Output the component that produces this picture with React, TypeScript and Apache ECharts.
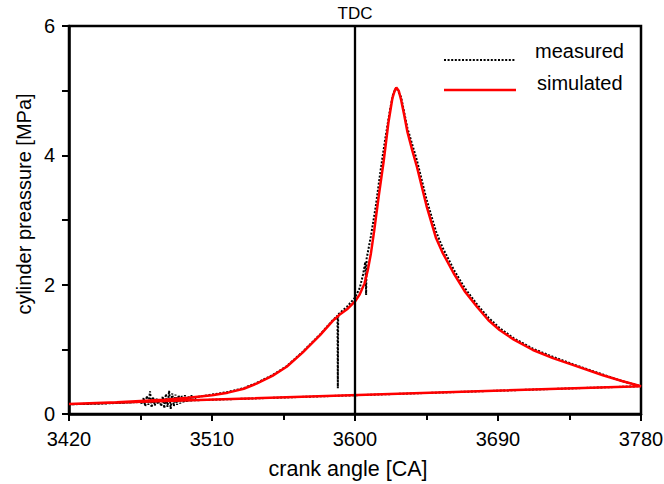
import React, { useEffect, useRef } from "react";
import * as echarts from "echarts";

const xTicks = [3420, 3510, 3600, 3690, 3780];
const yTicks = [0, 2, 4, 6];
const xTitle = "crank angle [CA]";
const yTitle = "cylinder preassure [MPa]";

// simulated curve: crank angle [CA] and pressure [MPa] (closed cycle, returns to start)
const simAngle = [
  3420, 3450, 3480, 3495, 3510, 3520, 3530, 3538, 3548, 3557, 3567, 3578, 3586, 3590, 3595, 3600,
  3603, 3606, 3608, 3610, 3612, 3615, 3618, 3621, 3623.5, 3625, 3626, 3627.5, 3629, 3631, 3633,
  3636, 3639, 3645, 3651, 3655, 3662, 3669, 3677, 3684, 3691, 3700, 3712, 3725, 3737, 3756, 3768,
  3780, 3420,
];
const simPressure = [
  0.155, 0.18, 0.22, 0.25, 0.29, 0.33, 0.39, 0.47, 0.59, 0.73, 0.95, 1.22, 1.44, 1.53, 1.62, 1.74,
  1.85, 2.02, 2.22, 2.48, 2.82, 3.38, 3.9, 4.5, 4.88, 5.0, 5.05, 5.0, 4.86, 4.62, 4.36,
  4.08, 3.82, 3.22, 2.72, 2.5, 2.18, 1.9, 1.65, 1.45, 1.3, 1.15, 0.99, 0.86, 0.76, 0.6, 0.51,
  0.43, 0.155,
];

// measured curve (noisy, with sensor glitches)
const measAngle = [
  3420, 3430, 3440, 3450, 3460, 3465, 3466, 3467, 3468, 3469, 3470, 3471, 3472, 3473, 3474, 3475,
  3476, 3477, 3478, 3479, 3480, 3481, 3482, 3483, 3484, 3485, 3486, 3487, 3488, 3489, 3490, 3491,
  3492, 3493, 3494, 3495, 3496, 3497, 3498, 3500, 3505, 3510, 3520, 3530, 3538, 3548, 3557, 3567,
  3578, 3586, 3589, 3589.2, 3589.4, 3595, 3600, 3603, 3605, 3606.5, 3607, 3607.3, 3610, 3613, 3616,
  3619, 3622, 3624, 3626, 3629, 3633, 3639, 3645, 3651, 3655, 3662, 3669, 3677, 3684, 3691, 3700,
  3712, 3725, 3737, 3756, 3768, 3780, 3420,
];
const measPressure = [
  0.15, 0.155, 0.16, 0.17, 0.18, 0.19, 0.15, 0.25, 0.12, 0.28, 0.14, 0.35, 0.1, 0.26, 0.13, 0.24,
  0.15, 0.22, 0.12, 0.27, 0.09, 0.31, 0.11, 0.36, 0.08, 0.32, 0.12, 0.3, 0.14, 0.29, 0.16, 0.28,
  0.18, 0.29, 0.19, 0.28, 0.2, 0.29, 0.22, 0.26, 0.28, 0.3, 0.34, 0.4, 0.48, 0.6, 0.74, 0.96,
  1.23, 1.45, 1.52, 0.4, 1.54, 1.66, 1.8, 1.95, 2.15, 2.35, 1.84, 2.4, 2.75, 3.2, 3.75,
  4.25, 4.7, 4.95, 5.05, 4.9, 4.42, 3.92, 3.32, 2.82, 2.58, 2.24, 1.95, 1.69, 1.49, 1.33, 1.17,
  1.01, 0.88, 0.77, 0.61, 0.51, 0.43, 0.15,
];

const tdcAngle = 3600;
const legendNames = ["measured", "simulated"];

const FONT = "'Liberation Sans', Arial, Helvetica, sans-serif";

export default function App() {
  const ref = useRef<HTMLDivElement>(null);
  useEffect(() => {
    if (!ref.current) return;
    const chart = echarts.init(ref.current, undefined, { renderer: "svg" });
    const sim = simAngle.map((a, i) => [a, simPressure[i]]);
    const meas = measAngle.map((a, i) => [a, measPressure[i]]);
    const axisLine = { lineStyle: { color: "#000", width: 2.5 } };
    chart.setOption({
      animation: false,
      backgroundColor: "#fff",
      textStyle: { fontFamily: FONT },
      grid: {
        left: 69,
        right: 23,
        top: 26,
        bottom: 70,
        show: true,
        borderColor: "#000",
        borderWidth: 2.5,
        backgroundColor: "transparent",
        containLabel: false,
        outerBoundsMode: "none",
      },
      xAxis: {
        type: "value",
        min: xTicks[0],
        max: xTicks[xTicks.length - 1],
        interval: 90,
        axisLine,
        axisTick: { show: true, inside: false, length: 7, lineStyle: { color: "#000", width: 2 } },
        minorTick: { show: true, splitNumber: 2, length: 6, lineStyle: { color: "#000", width: 2 } },
        splitLine: { show: false },
        axisLabel: {
          fontSize: 20,
          color: "#000",
          margin: 15,
          fontFamily: FONT,
          showMinLabel: true,
          showMaxLabel: true,
          formatter: (v: number) => String(v),
        },
      },
      yAxis: {
        type: "value",
        min: yTicks[0],
        max: yTicks[yTicks.length - 1],
        interval: 2,
        axisLine,
        axisTick: { show: true, inside: false, length: 7, lineStyle: { color: "#000", width: 2 } },
        minorTick: { show: true, splitNumber: 2, length: 7, lineStyle: { color: "#000", width: 2 } },
        splitLine: { show: false },
        axisLabel: { fontSize: 20, color: "#000", margin: 14, fontFamily: FONT, formatter: (v: number) => String(v) },
      },
      series: [
        {
          name: legendNames[0],
          type: "line",
          data: meas,
          showSymbol: false,
          symbol: "none",
          lineStyle: { color: "#000", width: 2, type: [2, 1.6] },
          z: 2,
          markLine: {
            silent: true,
            symbol: "none",
            animation: false,
            lineStyle: { color: "#000", width: 2.3, type: "solid" },
            label: {
              show: true,
              position: "end",
              formatter: "TDC",
              fontSize: 17,
              color: "#000",
              fontFamily: FONT,
              distance: 4,
            },
            data: [{ xAxis: tdcAngle }],
          },
        },
        {
          name: legendNames[1],
          type: "line",
          data: sim,
          showSymbol: false,
          symbol: "none",
          lineStyle: { color: "#ff0000", width: 2.5 },
          z: 3,
        },
      ],
      graphic: [
        {
          type: "text",
          x: 348,
          y: 469,
          style: { text: xTitle, fontSize: 21.5, fill: "#000", fontFamily: FONT, align: "center", verticalAlign: "middle" },
        },
        {
          type: "text",
          x: 24,
          y: 204,
          rotation: Math.PI / 2,
          style: { text: yTitle, fontSize: 20, fill: "#000", fontFamily: FONT, align: "center", verticalAlign: "middle" },
        },
        {
          type: "line",
          shape: { x1: 444, y1: 60, x2: 516, y2: 60 },
          style: { stroke: "#000", lineWidth: 2, lineDash: [2, 1.6] },
        },
        {
          type: "text",
          x: 535,
          y: 51,
          style: { text: legendNames[0], fontSize: 20, fill: "#000", fontFamily: FONT, verticalAlign: "middle" },
        },
        {
          type: "line",
          shape: { x1: 444, y1: 90, x2: 516, y2: 90 },
          style: { stroke: "#ff0000", lineWidth: 2.5 },
        },
        {
          type: "text",
          x: 537,
          y: 83,
          style: { text: legendNames[1], fontSize: 20, fill: "#000", fontFamily: FONT, verticalAlign: "middle" },
        },
      ],
    });
    return () => chart.dispose();
  }, []);
  return <div ref={ref} style={{ width: 664, height: 484, position: "absolute", left: 0, top: 0 }} />;
}
